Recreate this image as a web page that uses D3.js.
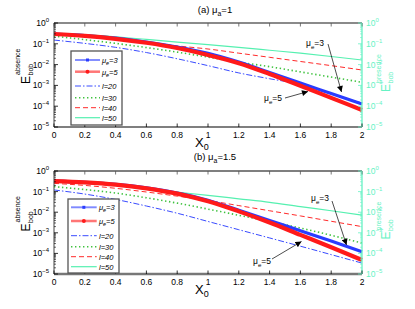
<!DOCTYPE html>
<html><head><meta charset="utf-8">
<script src="https://cdn.jsdelivr.net/npm/d3@7"></script>
<style>body{margin:0;background:#fff}svg{display:block;font-family:"Liberation Sans",Arial,sans-serif}</style>
</head><body><svg id="c" width="415" height="309"></svg>
<script>
// ---- data (log10 of E) ----
const xValues = [0, 0.2, 0.4, 0.6, 0.8, 1, 1.2, 1.4, 1.6, 1.8, 2];
const xTickLabels = ["0","0.2","0.4","0.6","0.8","1","1.2","1.4","1.6","1.8","2"];
const yExponents = [0, -1, -2, -3, -4, -5];
const legendLabels = [["μ","e","=3"],["μ","e","=5"],["l=20"],["l=30"],["l=40"],["l=50"]];
const panelTitles = [["(a) μ","a","=1"],["(b) μ","a","=1.5"]];

// panel (a) μa=1
const aMu3 = [-0.53,-0.60,-0.73,-0.92,-1.16,-1.46,-1.88,-2.38,-2.89,-3.39,-3.89];
const aMu5 = [-0.53,-0.62,-0.76,-0.95,-1.20,-1.54,-1.93,-2.45,-3.02,-3.60,-4.18];
const aL20 = [-0.82,-0.98,-1.17,-1.42,-1.72,-2.05,-2.40,-2.68,-2.95,-3.40,-3.85];
const aL30 = [-0.63,-0.80,-0.98,-1.18,-1.40,-1.64,-1.88,-2.10,-2.35,-2.60,-2.85];
const aL40 = [-0.55,-0.60,-0.72,-0.92,-1.10,-1.25,-1.45,-1.65,-1.85,-2.05,-2.26];
const aL50 = [-0.50,-0.56,-0.66,-0.79,-0.92,-1.04,-1.17,-1.31,-1.45,-1.61,-1.78];
// panel (b) μa=1.5
const bMu3 = [-0.49,-0.55,-0.65,-0.82,-1.07,-1.42,-1.91,-2.40,-2.90,-3.40,-3.92];
const bMu5 = [-0.49,-0.55,-0.66,-0.84,-1.10,-1.47,-1.96,-2.50,-3.10,-3.70,-4.32];
const bL20 = [-0.92,-1.12,-1.38,-1.70,-2.05,-2.45,-2.85,-3.25,-3.65,-4.06,-4.47];
const bL30 = [-0.76,-0.90,-1.07,-1.30,-1.56,-1.85,-2.15,-2.45,-2.77,-3.12,-3.50];
const bL40 = [-0.60,-0.70,-0.84,-1.02,-1.22,-1.43,-1.68,-1.93,-2.18,-2.44,-2.70];
const bL50 = [-0.47,-0.56,-0.70,-0.88,-1.03,-1.18,-1.35,-1.52,-1.73,-1.93,-2.14];

// ---- styles ----
const styles = [
  {color:"#2a3cff", width:3.2, dash:null, marker:"rect"},
  {color:"#ff1a1a", width:4.2, dash:null, marker:"circle"},
  {color:"#3a4cff", width:1, dash:"6,2,1.5,2"},
  {color:"#3fc23f", width:1.6, dash:"1.4,2.6"},
  {color:"#ff2a2a", width:1, dash:"5,3"},
  {color:"#55f0b0", width:1.2, dash:null}
];
const axisCyan = "#66f2c4";

const svg = d3.select("#c");
const L = 54, R = 362;
const x = d3.scaleLinear().domain([0, 2]).range([L, R]);

const panels = [
  {top:23, bottom:127, title:panelTitles[0], titleY:13, series:[aMu3,aMu5,aL20,aL30,aL40,aL50],
   legend:{x:71, y:51, w:51, h:74, ys:[60,71.7,86,97.7,107.7,117.7], lx0:75, lx1:100, tx:102},
   topAxisColor:"#8a8a8a", topAxisW:2.2, botAxisColor:"#000", botAxisW:1.2,
   ann:[{t:["μ","e","=3"], tx:306, ty:46, x1:328, y1:44, x2:341.5, y2:92},
        {t:["μ","e","=5"], tx:264, ty:101, x1:285, y1:98, x2:308, y2:91.5}]},
  {top:171, bottom:274, title:panelTitles[1], titleY:160, series:[bMu3,bMu5,bL20,bL30,bL40,bL50],
   legend:{x:68, y:199, w:51, h:74, ys:[207.3,221,235.7,246.7,256.7,266.7], lx0:71, lx1:96.7, tx:99},
   topAxisColor:"#000", topAxisW:1.2, botAxisColor:"#777", botAxisW:2.4,
   ann:[{t:["μ","e","=3"], tx:311, ty:201, x1:332, y1:201, x2:346.5, y2:245},
        {t:["μ","e","=5"], tx:253, ty:264, x1:272, y1:259, x2:301.5, y2:241.5}]}
];

svg.append("defs").append("marker").attr("id","ah").attr("viewBox","0 0 10 10")
  .attr("refX",10).attr("refY",5).attr("markerWidth",7).attr("markerHeight",6)
  .attr("markerUnits","userSpaceOnUse").attr("orient","auto")
  .append("path").attr("d","M0,0 L10,5 L0,10 z").attr("fill","#000");

function subText(sel, parts, size) {
  sel.append("tspan").text(parts[0]);
  if (parts.length > 1) {
    sel.append("tspan").attr("dy", size*0.3).attr("font-size", size*0.72).text(parts[1]);
    sel.append("tspan").attr("dy", -size*0.3).text(parts[2]);
  }
}

panels.forEach(p => {
  const y = d3.scaleLog().domain([1e-5, 1]).range([p.bottom, p.top]);
  const g = svg.append("g");
  const line = d3.line().curve(d3.curveMonotoneX)
    .x((d,i) => x(xValues[i])).y(d => y(Math.pow(10, d)));

  // curves: thin first, thick last
  [2,3,4,5,0,1].forEach(k => {
    const s = styles[k];
    g.append("path").datum(p.series[k]).attr("d", line).attr("fill","none")
      .attr("stroke", s.color).attr("stroke-width", s.width)
      .attr("stroke-dasharray", s.dash).attr("stroke-linejoin","round");
  });

  // axes frame
  g.append("line").attr("x1",L).attr("x2",R).attr("y1",p.top).attr("y2",p.top)
    .attr("stroke",p.topAxisColor).attr("stroke-width",p.topAxisW);
  g.append("line").attr("x1",L).attr("x2",R).attr("y1",p.bottom).attr("y2",p.bottom)
    .attr("stroke",p.botAxisColor).attr("stroke-width",p.botAxisW);
  g.append("line").attr("x1",L).attr("x2",L).attr("y1",p.top).attr("y2",p.bottom)
    .attr("stroke","#444").attr("stroke-width",1);
  g.append("line").attr("x1",R).attr("x2",R).attr("y1",p.top).attr("y2",p.bottom)
    .attr("stroke",axisCyan).attr("stroke-width",1.3);

  // x ticks (bottom and top, inward)
  xValues.forEach((v,i) => {
    g.append("line").attr("x1",x(v)).attr("x2",x(v)).attr("y1",p.bottom).attr("y2",p.bottom-3.5).attr("stroke","#000").attr("stroke-width",0.8);
    g.append("line").attr("x1",x(v)).attr("x2",x(v)).attr("y1",p.top).attr("y2",p.top+3.5).attr("stroke","#555").attr("stroke-width",0.8);
    g.append("text").attr("x",x(v)).attr("y",p.bottom+11).attr("text-anchor","middle")
      .attr("font-size",8.5).attr("fill","#000").text(xTickLabels[i]);
  });

  // y ticks: major + minor (log)
  yExponents.forEach(e => {
    const yy = y(Math.pow(10,e));
    g.append("line").attr("x1",L).attr("x2",L+4).attr("y1",yy).attr("y2",yy).attr("stroke","#000").attr("stroke-width",0.8);
    g.append("line").attr("x1",R).attr("x2",R-4).attr("y1",yy).attr("y2",yy).attr("stroke",axisCyan).attr("stroke-width",0.8);
    if (e < 0) {
      for (let m = 2; m <= 9; m++) {
        const ym = y(m * Math.pow(10, e));
        g.append("line").attr("x1",L).attr("x2",L+2).attr("y1",ym).attr("y2",ym).attr("stroke","#000").attr("stroke-width",0.6);
        g.append("line").attr("x1",R).attr("x2",R-2).attr("y1",ym).attr("y2",ym).attr("stroke",axisCyan).attr("stroke-width",0.6);
      }
    }
    const expTxt = e === 0 ? "0" : "\u2212" + (-e);
    const tl = g.append("text").attr("x",L-5).attr("y",yy+3).attr("text-anchor","end").attr("font-size",8.5).attr("fill","#000");
    tl.append("tspan").text("10");
    tl.append("tspan").attr("dy",-4).attr("font-size",6).text(expTxt);
    const tr = g.append("text").attr("x",R+4).attr("y",yy+3).attr("text-anchor","start").attr("font-size",8.5).attr("fill",axisCyan);
    tr.append("tspan").text("10");
    tr.append("tspan").attr("dy",-4).attr("font-size",6).text(expTxt);
  });

  // title
  const t = g.append("text").attr("x",215).attr("y",p.titleY).attr("text-anchor","middle").attr("font-size",9.5).attr("fill","#000");
  subText(t, p.title, 9.5);

  // x label
  const xl = g.append("text").attr("x",195).attr("y",p.bottom+20).attr("font-size",13).attr("fill","#000");
  xl.append("tspan").text("X");
  xl.append("tspan").attr("dy",3).attr("font-size",9).text("0");

  // left y label
  const cy = (p.top + p.bottom)/2 + 9;
  const yl = g.append("g").attr("transform",`translate(30,${cy}) rotate(-90)`);
  yl.append("text").attr("x",0).attr("y",0).attr("font-size",12).text("E");
  yl.append("text").attr("x",8.5).attr("y",3).attr("font-size",7).text("bob");
  yl.append("text").attr("x",9).attr("y",-10).attr("font-size",7).text("absence");

  // right y label
  const yr = g.append("g").attr("transform",`translate(390,${cy+8}) rotate(-90)`).attr("fill",axisCyan);
  yr.append("text").attr("x",0).attr("y",0).attr("font-size",12).text("E");
  yr.append("text").attr("x",8.5).attr("y",3).attr("font-size",7).text("bob");
  yr.append("text").attr("x",9).attr("y",-9).attr("font-size",7).text("presence");

  // legend
  const lg = p.legend;
  g.append("rect").attr("x",lg.x).attr("y",lg.y).attr("width",lg.w).attr("height",lg.h)
    .attr("fill","#fff").attr("stroke","#555").attr("stroke-width",1.3);
  legendLabels.forEach((lab,k) => {
    const s = styles[k], yy = lg.ys[k];
    g.append("line").attr("x1",lg.lx0).attr("x2",lg.lx1).attr("y1",yy).attr("y2",yy)
      .attr("stroke", s.color).attr("stroke-width", k < 2 ? s.width*0.6 : s.width).attr("stroke-opacity", k<2?0.6:1)
      .attr("stroke-dasharray", s.dash);
    const mx = (lg.lx0 + lg.lx1)/2;
    if (s.marker === "rect") g.append("rect").attr("x",mx-1.5).attr("y",yy-1.5).attr("width",3).attr("height",3).attr("fill",s.color);
    if (s.marker === "circle") g.append("circle").attr("cx",mx).attr("cy",yy).attr("r",2).attr("fill",s.color);
    const tt = g.append("text").attr("x",lg.tx).attr("y",yy+2.8).attr("font-size",7.5).attr("font-style","italic").attr("fill","#000");
    subText(tt, lab, 7.5);
  });

  // annotations
  p.ann.forEach(a => {
    const at = g.append("text").attr("x",a.tx).attr("y",a.ty).attr("font-size",8.5).attr("fill","#000");
    subText(at, a.t, 8.5);
    g.append("line").attr("x1",a.x1).attr("y1",a.y1).attr("x2",a.x2).attr("y2",a.y2)
      .attr("stroke","#000").attr("stroke-width",0.7).attr("marker-end","url(#ah)");
  });
});
</script></body></html>
